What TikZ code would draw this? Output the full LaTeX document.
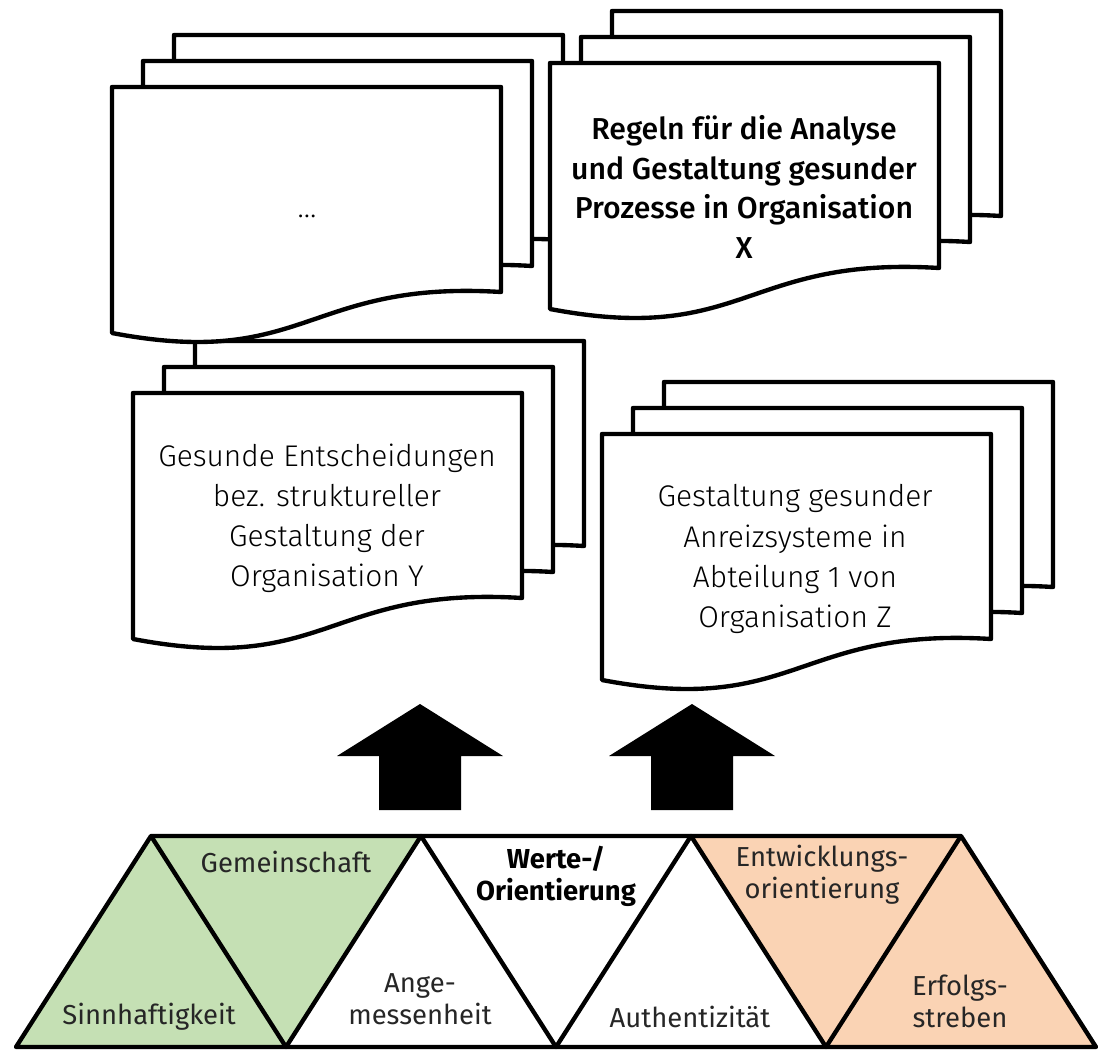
\documentclass[tikz,border=0pt]{standalone}
\usepackage{fontspec}
\setmainfont{Fira Sans}
\newfontfamily\boxfont{Fira Sans Light}[BoldFont={Fira Sans Medium}]
\definecolor{pillargreen}{HTML}{C5E0B4}
\definecolor{pillarorange}{HTML}{FAD3B4}

% one document sheet: left, top (wavy lower edge)
\newcommand\docsheet[2]{%
  \filldraw[outline, fill=white] (#1,#2) -- (#1+389,#2) -- (#1+389,#2+205)
    .. controls (#1+194.5,#2+193) and (#1+194.5,#2+283) .. (#1,#2+246) -- cycle;}
% a stack of three sheets, the front one at left, top
\newcommand\docstack[2]{%
  \docsheet{#1+62}{#2-52}\docsheet{#1+31}{#2-26}\docsheet{#1}{#2}}
% upward block arrow with its tip at x
\newcommand\blockup[1]{%
  \fill[black] (#1-41,810) -- (#1-41,756) -- (#1-83,756) -- (#1,704)
    -- (#1+83,756) -- (#1+41,756) -- (#1+41,810) -- cycle;}

\begin{document}
\begin{tikzpicture}[x=0.01cm,y=-0.01cm,
  outline/.style={line width=1.24pt, line join=round, draw=black},
  boxtext/.style={align=center, font=\boxfont\fontsize{8.5}{11.4}\selectfont, text=black},
  tritext/.style={align=center, font=\fontsize{7.8}{9.1}\selectfont, text=black!85}]
\useasboundingbox (0,0) rectangle (1099,1051);

% document stacks
\docstack{133}{393}
\node[boxtext] (entscheidungen) at (327,518)
  {Gesunde Entscheidungen\\bez. struktureller\\Gestaltung der\\Organisation Y};
\docstack{112}{87}
\node[boxtext] (weitere) at (307,216) {\ldots};
\docstack{550}{63}
\node[boxtext, font=\boxfont\bfseries\fontsize{8.6}{11.2}\selectfont] (regeln) at (744,187)
  {Regeln für die Analyse\\und Gestaltung gesunder\\Prozesse in Organisation\\X};
\docstack{602}{434}
\node[boxtext] (anreiz) at (795,559)
  {Gestaltung gesunder\\Anreizsysteme in\\Abteilung 1 von\\Organisation Z};

% arrows
\blockup{420}
\blockup{692}

% band of triangles
\fill[pillargreen] (16,1047) -- (151,836) -- (421,836) -- (286,1047) -- cycle;
\fill[pillarorange] (691,836) -- (961,836) -- (1096,1047) -- (826,1047) -- cycle;
\draw[outline] (16,1047) -- (151,836) -- (961,836) -- (1096,1047) -- cycle;
\draw[outline] (151,836) -- (286,1047) -- (421,836) -- (556,1047) -- (691,836)
  -- (826,1047) -- (961,836);

\node[tritext] (sinn) at (149,1017) {Sinnhaftigkeit};
\node[tritext] (gemein) at (286,862) {Gemeinschaft};
\node[tritext] (angem) at (420,999) {Ange-\\messenheit};
\node[tritext, font=\bfseries\fontsize{7.8}{9.1}\selectfont, text=black] (werte) at (556,876) {Werte-/\\Orientierung};
\node[tritext] (auth) at (690,1017) {Authentizität};
\node[tritext] (entw) at (822,875) {Entwicklungs-\\orientierung};
\node[tritext] (erfolg) at (960,1001) {Erfolgs-\\streben};
\end{tikzpicture}
\end{document}
